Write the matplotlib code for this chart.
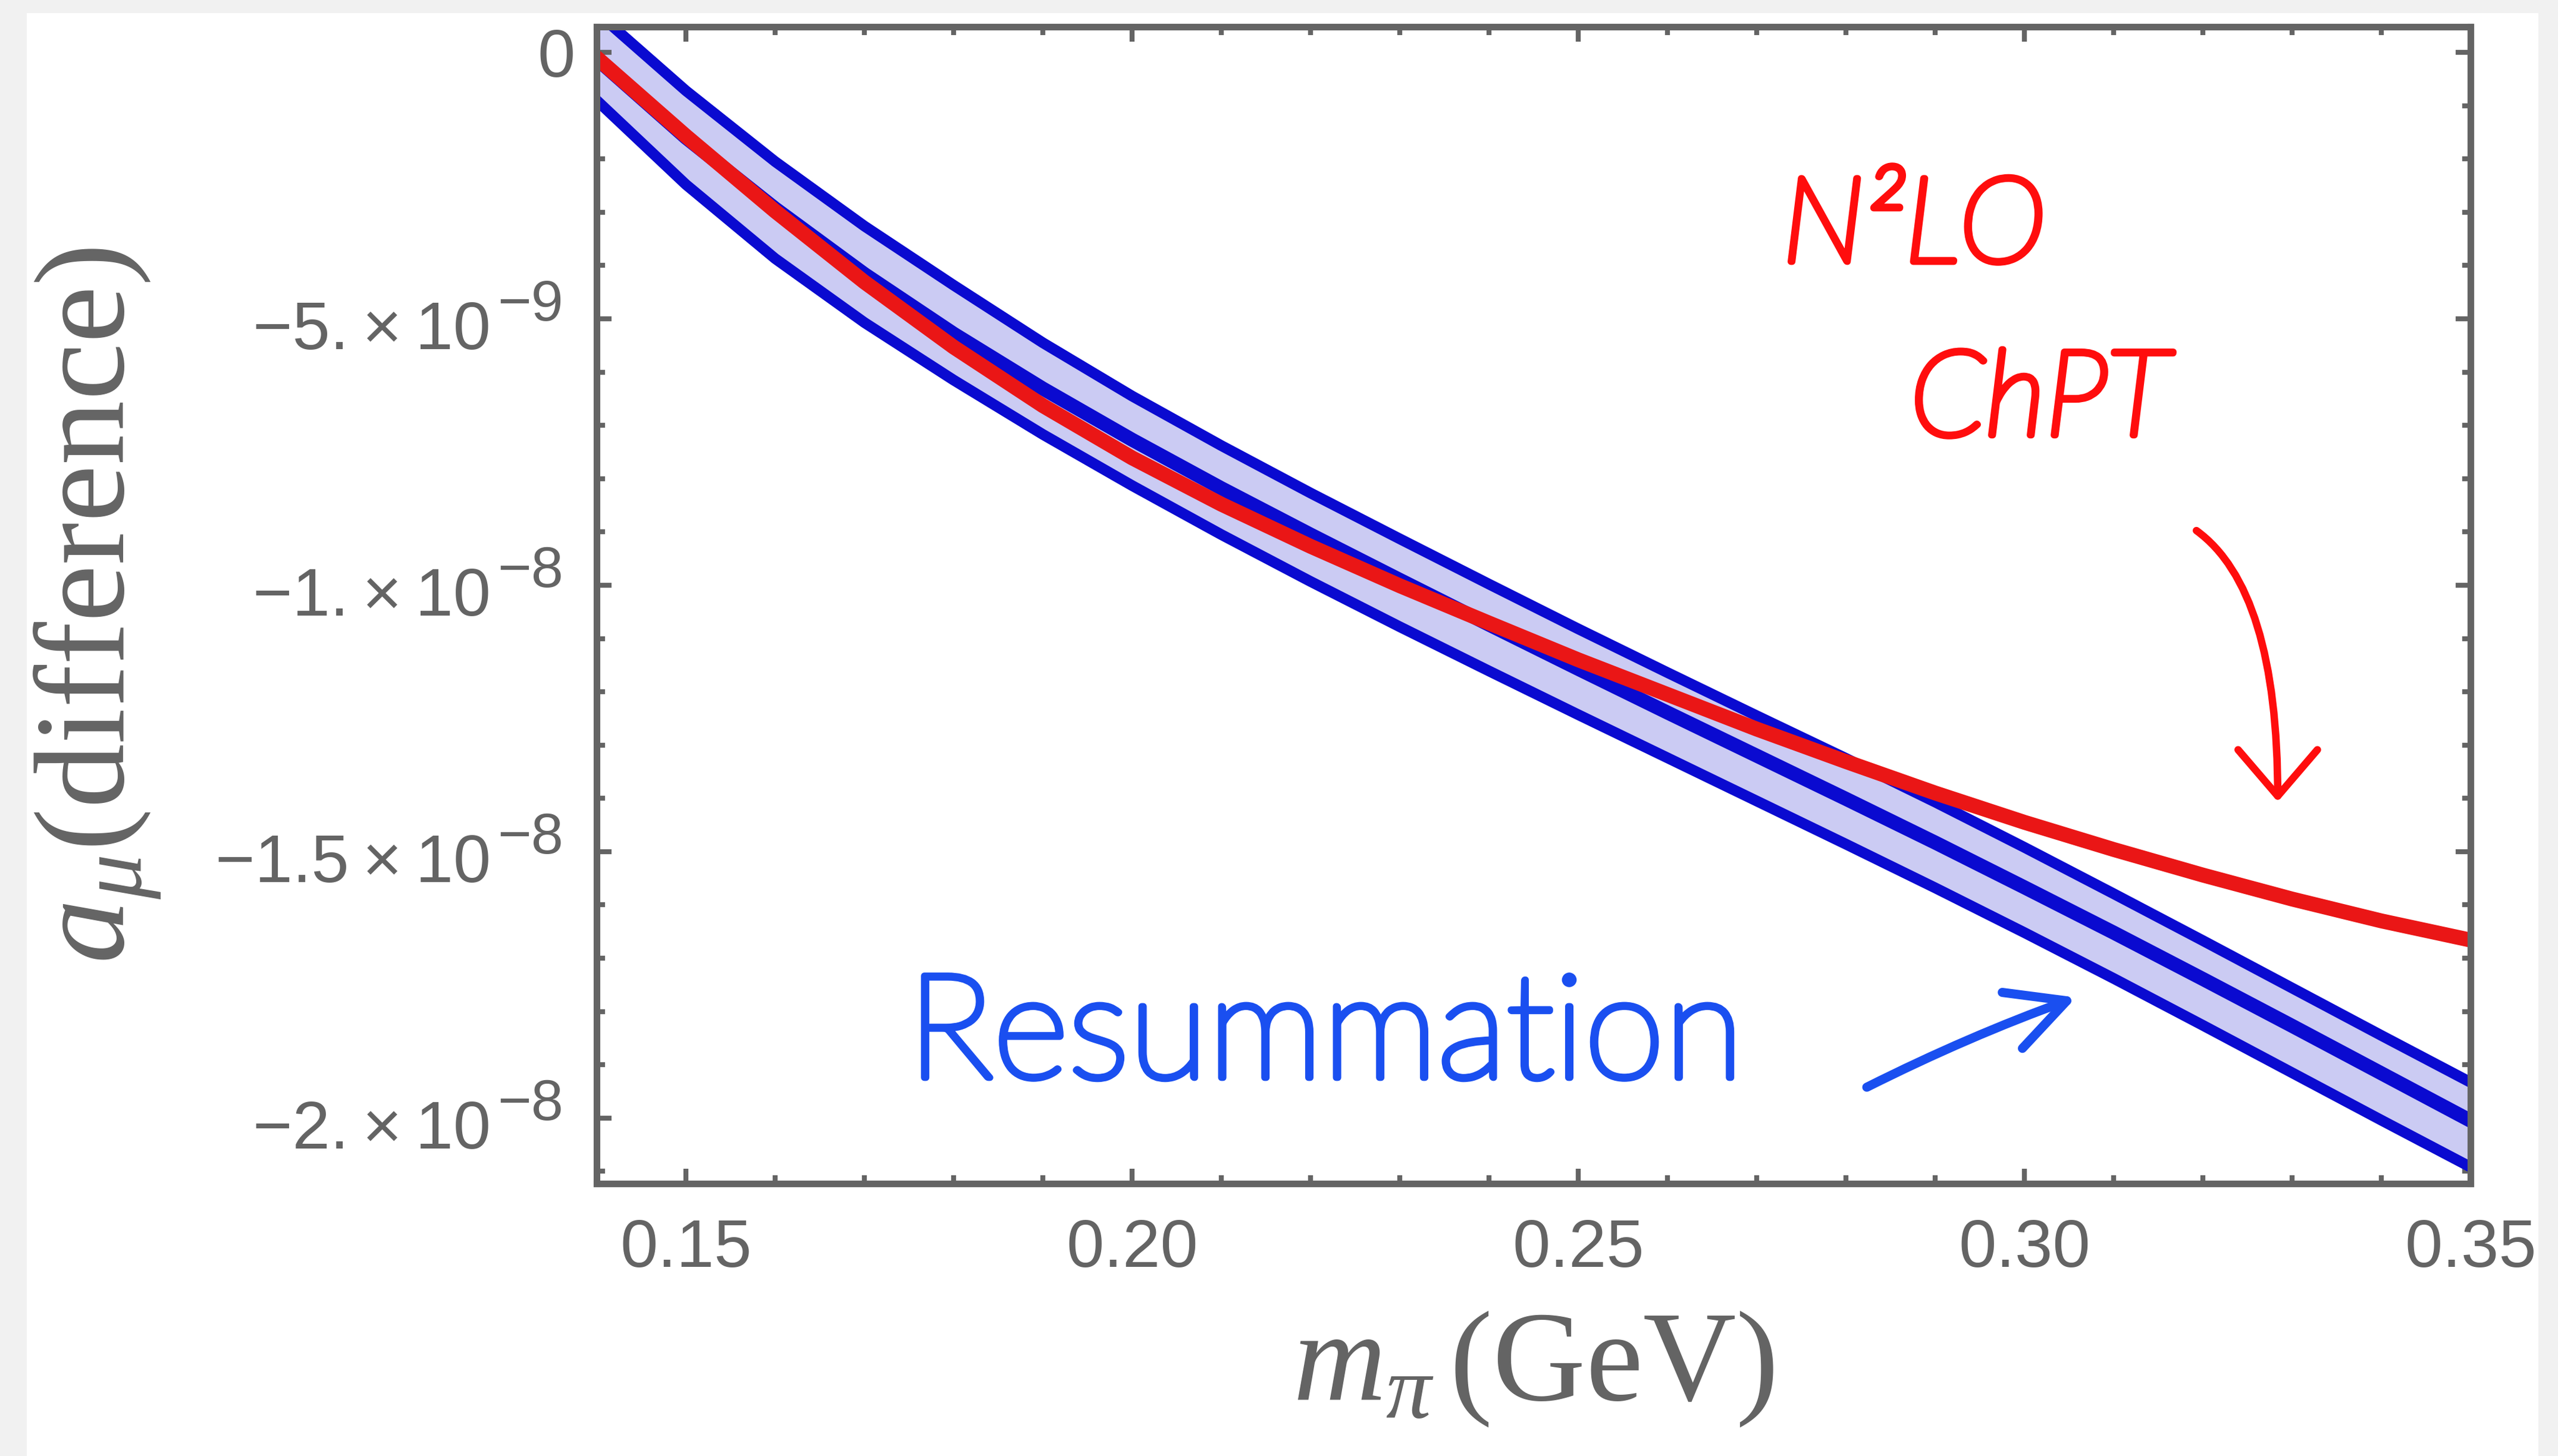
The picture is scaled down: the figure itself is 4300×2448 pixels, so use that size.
import numpy as np
import matplotlib
matplotlib.use('Agg')
import matplotlib.pyplot as plt
import matplotlib.patheffects as pe
from matplotlib.patches import Rectangle
from matplotlib.ticker import MultipleLocator

# pion mass grid (GeV)
m_pi = [0.14, 0.15, 0.16, 0.17, 0.18, 0.19, 0.20, 0.21, 0.22, 0.23, 0.24,
        0.25, 0.26, 0.27, 0.28, 0.29, 0.30, 0.31, 0.32, 0.33, 0.34, 0.35]

# a_mu difference, in units of 1e-9
resum_upper = [0.75, -0.72, -2.05, -3.26, -4.37, -5.45, -6.45, -7.38, -8.27, -9.13, -9.98,
               -10.82, -11.64, -12.45, -13.25, -14.07, -14.92, -15.79, -16.67, -17.56, -18.45, -19.33]
resum_central = [-0.12, -1.60, -2.93, -4.16, -5.28, -6.31, -7.27, -8.18, -9.05, -9.90, -10.74,
                 -11.57, -12.39, -13.20, -14.01, -14.83, -15.67, -16.52, -17.39, -18.27, -19.16, -20.05]
resum_lower = [-0.90, -2.48, -3.87, -5.07, -6.15, -7.17, -8.13, -9.05, -9.93, -10.78, -11.61,
               -12.43, -13.24, -14.05, -14.86, -15.68, -16.52, -17.38, -18.26, -19.15, -20.04, -20.92]
n2lo_chpt = [-0.10, -1.57, -2.98, -4.31, -5.53, -6.63, -7.61, -8.48, -9.27, -10.01, -10.71,
             -11.40, -12.05, -12.70, -13.31, -13.90, -14.45, -14.96, -15.44, -15.89, -16.30, -16.66]

ytick_vals = [0, -5e-9, -1e-8, -1.5e-8, -2e-8]
ytick_base = ['0', '\u22125.\u2009\u00d7\u200910', '\u22121.\u2009\u00d7\u200910',
              '\u22121.5\u2009\u00d7\u200910', '\u22122.\u2009\u00d7\u200910']
ytick_exp = ['', '\u22129', '\u22128', '\u22128', '\u22128']

gray = '#646464'
sans = ['Liberation Sans', 'DejaVu Sans']
plt.rcParams['mathtext.fontset'] = 'custom'
plt.rcParams['mathtext.rm'] = 'Liberation Serif'
plt.rcParams['mathtext.it'] = 'Liberation Serif:italic'

x = np.array(m_pi)
up = np.array(resum_upper) * 1e-9
mid = np.array(resum_central) * 1e-9
lo = np.array(resum_lower) * 1e-9
red = np.array(n2lo_chpt) * 1e-9

fig = plt.figure(figsize=(21.5, 12.24), dpi=200, facecolor='#f1f1f1')
fig.patches.append(Rectangle((45 / 4300, 0), 4222 / 4300, 1 - 22 / 2448,
                             transform=fig.transFigure, facecolor='white',
                             edgecolor='none', zorder=-10))
ax = fig.add_axes([0.23326, 0.1871, 0.73256, 0.7945])
ax.set_facecolor('white')

ax.fill_between(x, lo, up, color='#cbcbf3', lw=0, zorder=1)
ax.plot(x, up, color='#0a0ad0', lw=6.5, zorder=2, solid_joinstyle='round')
ax.plot(x, lo, color='#0a0ad0', lw=6.5, zorder=2, solid_joinstyle='round')
ax.plot(x, mid, color='#0a0ad0', lw=8.5, zorder=3, solid_joinstyle='round')
ax.plot(x, red, color='#ea1616', lw=9, zorder=4, solid_joinstyle='round')

ax.set_xlim(0.14, 0.35)
ax.set_ylim(-21.23e-9, 0.48e-9)

for s in ax.spines.values():
    s.set_color(gray)
    s.set_linewidth(4)
    s.set_zorder(6)

ax.xaxis.set_major_locator(MultipleLocator(0.05))
ax.xaxis.set_minor_locator(MultipleLocator(0.01))
ax.yaxis.set_major_locator(MultipleLocator(5e-9))
ax.yaxis.set_minor_locator(MultipleLocator(1e-9))
ax.tick_params(which='both', direction='in', top=True, right=True, color=gray)
ax.tick_params(which='major', length=9, width=3)
ax.tick_params(which='minor', length=5, width=3)
ax.tick_params(axis='x', pad=21, labelsize=41, labelcolor=gray)
ax.set_xticks([0.15, 0.20, 0.25, 0.30, 0.35])
ax.set_xticklabels(['0.15', '0.20', '0.25', '0.30', '0.35'], family=sans)
ax.set_yticks(ytick_vals)
ax.set_yticklabels([])

# Mathematica-style y tick labels with full-size exponents
ytrans = ax.get_yaxis_transform()
for v, b, e in zip(ytick_vals, ytick_base, ytick_exp):
    if e:
        ax.annotate(e, xy=(0, v), xycoords=ytrans, xytext=(-20, -1),
                    textcoords='offset points', ha='right', va='baseline',
                    fontsize=35, color=gray, family=sans)
        ax.annotate(b, xy=(0, v), xycoords=ytrans, xytext=(-64, -18.4),
                    textcoords='offset points', ha='right', va='baseline',
                    fontsize=41, color=gray, family=sans)
    else:
        ax.annotate(b, xy=(0, v), xycoords=ytrans, xytext=(-13, -14.8),
                    textcoords='offset points', ha='right', va='baseline',
                    fontsize=41, color=gray, family=sans)

ax.set_xlabel(r'$m_{\pi}\,$(GeV)', fontsize=78, family='Liberation Serif',
              color=gray, va='baseline')
ax.xaxis.set_label_coords(0.5, -0.187)
ax.set_ylabel(r'$a_{\mu}$(difference)', fontsize=78, family='Liberation Serif',
              color=gray, va='baseline')
ax.yaxis.set_label_coords(-0.252, 0.5)

# hand-written notes: thin glyphs thickened with a round pen stroke
hand_red = '#ff0d0d'
hand_blue = '#1a4ff0'
pen_red = [pe.withStroke(linewidth=4, foreground=hand_red, capstyle='round', joinstyle='round')]
pen_blue = [pe.withStroke(linewidth=4, foreground=hand_blue, capstyle='round', joinstyle='round')]
ax.text(0.703, 0.797, 'N\u00b2LO', transform=ax.transAxes, ha='center', va='baseline',
        fontsize=72, color=hand_red, family='Lato', weight='light', style='italic',
        path_effects=pen_red)
ax.text(0.770, 0.647, 'ChPT', transform=ax.transAxes, ha='center', va='baseline',
        fontsize=72, color=hand_red, family='Lato', weight='light', style='italic',
        path_effects=pen_red)
ax.text(0.389, 0.0916, 'Resummation', transform=ax.transAxes, ha='center', va='baseline',
        fontsize=88, color=hand_blue, family='Lato', weight='light',
        path_effects=pen_blue)

ax.annotate('', xy=(0.8971, 0.3301), xycoords='axes fraction',
            xytext=(0.8537, 0.5645), textcoords='axes fraction',
            arrowprops=dict(arrowstyle='->,head_length=0.28,head_width=0.24',
                            connectionstyle='angle3,angleA=-36,angleB=90',
                            color=hand_red, lw=4.5, mutation_scale=100,
                            shrinkA=0, shrinkB=0, capstyle='round'))
ax.annotate('', xy=(0.7895, 0.1609), xycoords='axes fraction',
            xytext=(0.6778, 0.0833), textcoords='axes fraction',
            arrowprops=dict(arrowstyle='->,head_length=0.35,head_width=0.18',
                            connectionstyle='arc3,rad=-0.03',
                            color=hand_blue, lw=5.5, mutation_scale=100,
                            shrinkA=0, shrinkB=0, capstyle='round'))

fig.savefig('out.png', dpi=200, facecolor=fig.get_facecolor())
